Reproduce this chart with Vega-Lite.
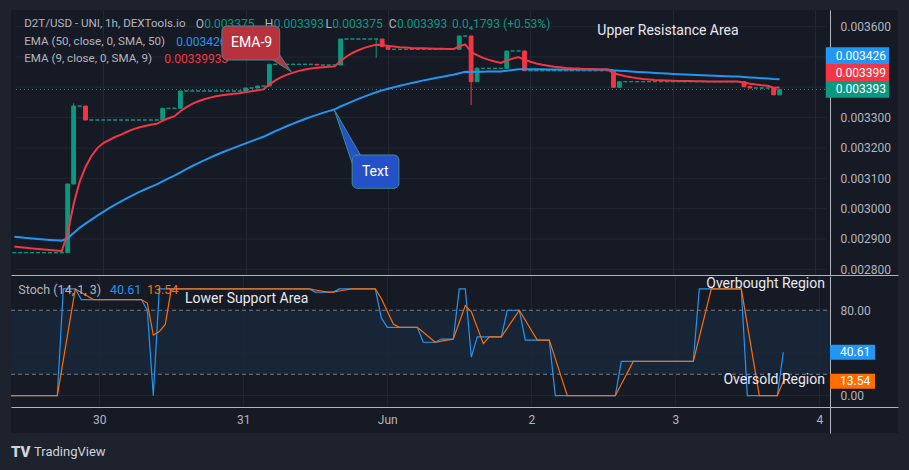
{
"$schema":"https://vega.github.io/schema/vega-lite/v6.json",
"background":"#1e222d",
"padding":{"left":10,"top":10,"right":14,"bottom":14},
"config":{"view":{"stroke":null,"fill":"#161a25"},"font":"Roboto","text":{"font":"Roboto"}},
"datasets":{"bars":[
{"t":"2023-05-29T09:00Z","open":0.0028548,"high":0.0028548,"low":0.0028548,"close":0.0028548,"ema9":0.0028749,"ema50":0.0029075,"k":0,"d":0},
{"t":"2023-05-29T10:00Z","open":0.0028548,"high":0.0028548,"low":0.0028548,"close":0.0028548,"ema9":0.0028729,"ema50":0.0029055,"k":0,"d":0},
{"t":"2023-05-29T11:00Z","open":0.0028548,"high":0.0028548,"low":0.0028548,"close":0.0028548,"ema9":0.0028709,"ema50":0.0029036,"k":0,"d":0},
{"t":"2023-05-29T12:00Z","open":0.0028548,"high":0.0028548,"low":0.0028548,"close":0.0028548,"ema9":0.0028689,"ema50":0.0029016,"k":0,"d":0},
{"t":"2023-05-29T13:00Z","open":0.0028548,"high":0.0028548,"low":0.0028548,"close":0.0028548,"ema9":0.0028670,"ema50":0.0028999,"k":0,"d":0},
{"t":"2023-05-29T14:00Z","open":0.0028548,"high":0.0028548,"low":0.0028548,"close":0.0028548,"ema9":0.0028653,"ema50":0.0028983,"k":0,"d":0},
{"t":"2023-05-29T15:00Z","open":0.0028548,"high":0.0028548,"low":0.0028548,"close":0.0028548,"ema9":0.0028637,"ema50":0.0028970,"k":0,"d":0},
{"t":"2023-05-29T16:00Z","open":0.0028548,"high":0.0028548,"low":0.0028548,"close":0.0028548,"ema9":0.0028620,"ema50":0.0028956,"k":0,"d":0},
{"t":"2023-05-29T17:00Z","open":0.0028548,"high":0.0028548,"low":0.0028548,"close":0.0028548,"ema9":0.0028604,"ema50":0.0028946,"k":0,"d":0},
{"t":"2023-05-29T18:00Z","open":0.0028548,"high":0.0030812,"low":0.0028548,"close":0.0030812,"ema9":0.0029197,"ema50":0.0029029,"k":100,"d":33.3},
{"t":"2023-05-29T19:00Z","open":0.0030812,"high":0.0033472,"low":0.0030812,"close":0.0033383,"ema9":0.0030153,"ema50":0.0029200,"k":100,"d":66.7},
{"t":"2023-05-29T20:00Z","open":0.0033383,"high":0.0033383,"low":0.0033383,"close":0.0033383,"ema9":0.0030878,"ema50":0.0029365,"k":100,"d":100},
{"t":"2023-05-29T21:00Z","open":0.0033383,"high":0.0033383,"low":0.0032922,"close":0.0032922,"ema9":0.0031372,"ema50":0.0029504,"k":90,"d":96.7},
{"t":"2023-05-29T22:00Z","open":0.0032922,"high":0.0032922,"low":0.0032922,"close":0.0032922,"ema9":0.0031735,"ema50":0.0029639,"k":90,"d":93.3},
{"t":"2023-05-29T23:00Z","open":0.0032922,"high":0.0032922,"low":0.0032922,"close":0.0032922,"ema9":0.0031996,"ema50":0.0029771,"k":90,"d":90},
{"t":"2023-05-30T00:00Z","open":0.0032922,"high":0.0032922,"low":0.0032922,"close":0.0032922,"ema9":0.0032163,"ema50":0.0029896,"k":90,"d":90},
{"t":"2023-05-30T01:00Z","open":0.0032922,"high":0.0032922,"low":0.0032922,"close":0.0032922,"ema9":0.0032262,"ema50":0.0030018,"k":90,"d":90},
{"t":"2023-05-30T02:00Z","open":0.0032922,"high":0.0032922,"low":0.0032922,"close":0.0032922,"ema9":0.0032361,"ema50":0.0030133,"k":90,"d":90},
{"t":"2023-05-30T03:00Z","open":0.0032922,"high":0.0032922,"low":0.0032922,"close":0.0032922,"ema9":0.0032437,"ema50":0.0030242,"k":90,"d":90},
{"t":"2023-05-30T04:00Z","open":0.0032922,"high":0.0032922,"low":0.0032922,"close":0.0032922,"ema9":0.0032533,"ema50":0.0030347,"k":90,"d":90},
{"t":"2023-05-30T05:00Z","open":0.0032922,"high":0.0032922,"low":0.0032922,"close":0.0032922,"ema9":0.0032612,"ema50":0.0030446,"k":90,"d":90},
{"t":"2023-05-30T06:00Z","open":0.0032922,"high":0.0032922,"low":0.0032922,"close":0.0032922,"ema9":0.0032674,"ema50":0.0030542,"k":90,"d":90},
{"t":"2023-05-30T07:00Z","open":0.0032922,"high":0.0032922,"low":0.0032922,"close":0.0032922,"ema9":0.0032724,"ema50":0.0030631,"k":90,"d":90},
{"t":"2023-05-30T08:00Z","open":0.0032922,"high":0.0032922,"low":0.0032922,"close":0.0032922,"ema9":0.0032763,"ema50":0.0030716,"k":80,"d":86.7},
{"t":"2023-05-30T09:00Z","open":0.0032922,"high":0.0032922,"low":0.0032922,"close":0.0032922,"ema9":0.0032796,"ema50":0.0030802,"k":0,"d":56.7},
{"t":"2023-05-30T10:00Z","open":0.0032922,"high":0.0033307,"low":0.0032922,"close":0.0033307,"ema9":0.0032898,"ema50":0.0030901,"k":100,"d":60},
{"t":"2023-05-30T11:00Z","open":0.0033307,"high":0.0033307,"low":0.0033307,"close":0.0033307,"ema9":0.0032981,"ema50":0.0030996,"k":100,"d":66.7},
{"t":"2023-05-30T12:00Z","open":0.0033307,"high":0.0033307,"low":0.0033307,"close":0.0033307,"ema9":0.0033047,"ema50":0.0031089,"k":100,"d":100},
{"t":"2023-05-30T13:00Z","open":0.0033307,"high":0.0033877,"low":0.0033307,"close":0.0033877,"ema9":0.0033211,"ema50":0.0031198,"k":100,"d":100},
{"t":"2023-05-30T14:00Z","open":0.0033877,"high":0.0033877,"low":0.0033877,"close":0.0033877,"ema9":0.0033347,"ema50":0.0031303,"k":100,"d":100},
{"t":"2023-05-30T15:00Z","open":0.0033877,"high":0.0033877,"low":0.0033877,"close":0.0033877,"ema9":0.0033452,"ema50":0.0031405,"k":100,"d":100},
{"t":"2023-05-30T16:00Z","open":0.0033877,"high":0.0033877,"low":0.0033877,"close":0.0033877,"ema9":0.0033538,"ema50":0.0031501,"k":100,"d":100},
{"t":"2023-05-30T17:00Z","open":0.0033877,"high":0.0033877,"low":0.0033877,"close":0.0033877,"ema9":0.0033604,"ema50":0.0031593,"k":100,"d":100},
{"t":"2023-05-30T18:00Z","open":0.0033877,"high":0.0033877,"low":0.0033877,"close":0.0033877,"ema9":0.0033660,"ema50":0.0031682,"k":100,"d":100},
{"t":"2023-05-30T19:00Z","open":0.0033877,"high":0.0033877,"low":0.0033877,"close":0.0033877,"ema9":0.0033703,"ema50":0.0031768,"k":100,"d":100},
{"t":"2023-05-30T20:00Z","open":0.0033877,"high":0.0033877,"low":0.0033877,"close":0.0033877,"ema9":0.0033739,"ema50":0.0031850,"k":100,"d":100},
{"t":"2023-05-30T21:00Z","open":0.0033877,"high":0.0033877,"low":0.0033877,"close":0.0033877,"ema9":0.0033763,"ema50":0.0031929,"k":100,"d":100},
{"t":"2023-05-30T22:00Z","open":0.0033877,"high":0.0033877,"low":0.0033877,"close":0.0033877,"ema9":0.0033788,"ema50":0.0032005,"k":100,"d":100},
{"t":"2023-05-30T23:00Z","open":0.0033877,"high":0.0033877,"low":0.0033877,"close":0.0033877,"ema9":0.0033805,"ema50":0.0032078,"k":100,"d":100},
{"t":"2023-05-31T00:00Z","open":0.0033877,"high":0.0033976,"low":0.0033877,"close":0.0033976,"ema9":0.0033841,"ema50":0.0032153,"k":100,"d":100},
{"t":"2023-05-31T01:00Z","open":0.0033976,"high":0.0033976,"low":0.0033976,"close":0.0033976,"ema9":0.0033867,"ema50":0.0032226,"k":100,"d":100},
{"t":"2023-05-31T02:00Z","open":0.0033976,"high":0.0034042,"low":0.0033976,"close":0.0034042,"ema9":0.0033900,"ema50":0.0032299,"k":100,"d":100},
{"t":"2023-05-31T03:00Z","open":0.0034042,"high":0.0034042,"low":0.0034042,"close":0.0034042,"ema9":0.0033931,"ema50":0.0032368,"k":100,"d":100},
{"t":"2023-05-31T04:00Z","open":0.0034042,"high":0.0034757,"low":0.0034042,"close":0.0034757,"ema9":0.0034095,"ema50":0.0032461,"k":100,"d":100},
{"t":"2023-05-31T05:00Z","open":0.0034757,"high":0.0034757,"low":0.0034757,"close":0.0034757,"ema9":0.0034227,"ema50":0.0032553,"k":100,"d":100},
{"t":"2023-05-31T06:00Z","open":0.0034757,"high":0.0034757,"low":0.0034757,"close":0.0034757,"ema9":0.0034332,"ema50":0.0032639,"k":100,"d":100},
{"t":"2023-05-31T07:00Z","open":0.0034757,"high":0.0034757,"low":0.0034757,"close":0.0034757,"ema9":0.0034418,"ema50":0.0032724,"k":100,"d":100},
{"t":"2023-05-31T08:00Z","open":0.0034757,"high":0.0034757,"low":0.0034757,"close":0.0034757,"ema9":0.0034484,"ema50":0.0032803,"k":100,"d":100},
{"t":"2023-05-31T09:00Z","open":0.0034757,"high":0.0034757,"low":0.0034757,"close":0.0034757,"ema9":0.0034541,"ema50":0.0032879,"k":100,"d":100},
{"t":"2023-05-31T10:00Z","open":0.0034757,"high":0.0034757,"low":0.0034757,"close":0.0034757,"ema9":0.0034584,"ema50":0.0032955,"k":100,"d":100},
{"t":"2023-05-31T11:00Z","open":0.0034757,"high":0.0034757,"low":0.0034757,"close":0.0034757,"ema9":0.0034622,"ema50":0.0033024,"k":100,"d":100},
{"t":"2023-05-31T12:00Z","open":0.0034757,"high":0.0034757,"low":0.0034734,"close":0.0034734,"ema9":0.0034646,"ema50":0.0033090,"k":97,"d":99},
{"t":"2023-05-31T13:00Z","open":0.0034734,"high":0.0034734,"low":0.0034734,"close":0.0034734,"ema9":0.0034660,"ema50":0.0033156,"k":97,"d":98},
{"t":"2023-05-31T14:00Z","open":0.0034734,"high":0.0034734,"low":0.0034734,"close":0.0034734,"ema9":0.0034676,"ema50":0.0033215,"k":97,"d":97},
{"t":"2023-05-31T15:00Z","open":0.0034734,"high":0.0034734,"low":0.0034734,"close":0.0034734,"ema9":0.0034689,"ema50":0.0033274,"k":97,"d":97},
{"t":"2023-05-31T16:00Z","open":0.0034734,"high":0.0035591,"low":0.0034734,"close":0.0035591,"ema9":0.0034869,"ema50":0.0033366,"k":100,"d":98},
{"t":"2023-05-31T17:00Z","open":0.0035591,"high":0.0035591,"low":0.0035591,"close":0.0035591,"ema9":0.0035015,"ema50":0.0033452,"k":100,"d":99},
{"t":"2023-05-31T18:00Z","open":0.0035591,"high":0.0035591,"low":0.0035591,"close":0.0035591,"ema9":0.0035130,"ema50":0.0033534,"k":100,"d":100},
{"t":"2023-05-31T19:00Z","open":0.0035591,"high":0.0035591,"low":0.0035591,"close":0.0035591,"ema9":0.0035222,"ema50":0.0033617,"k":100,"d":100},
{"t":"2023-05-31T20:00Z","open":0.0035591,"high":0.0035591,"low":0.0035591,"close":0.0035591,"ema9":0.0035298,"ema50":0.0033693,"k":100,"d":100},
{"t":"2023-05-31T21:00Z","open":0.0035591,"high":0.0035591,"low":0.0035591,"close":0.0035591,"ema9":0.0035357,"ema50":0.0033765,"k":100,"d":100},
{"t":"2023-05-31T22:00Z","open":0.0035591,"high":0.0035591,"low":0.0034975,"close":0.0035591,"ema9":0.0035403,"ema50":0.0033838,"k":100,"d":100},
{"t":"2023-05-31T23:00Z","open":0.0035591,"high":0.0035591,"low":0.0035337,"close":0.0035337,"ema9":0.0035390,"ema50":0.0033897,"k":73,"d":91},
{"t":"2023-06-01T00:00Z","open":0.0035337,"high":0.0035337,"low":0.0035252,"close":0.0035252,"ema9":0.0035364,"ema50":0.0033950,"k":64,"d":79},
{"t":"2023-06-01T01:00Z","open":0.0035252,"high":0.0035252,"low":0.0035252,"close":0.0035252,"ema9":0.0035341,"ema50":0.0033999,"k":64,"d":67},
{"t":"2023-06-01T02:00Z","open":0.0035252,"high":0.0035252,"low":0.0035252,"close":0.0035252,"ema9":0.0035320,"ema50":0.0034049,"k":64,"d":64},
{"t":"2023-06-01T03:00Z","open":0.0035252,"high":0.0035252,"low":0.0035252,"close":0.0035252,"ema9":0.0035308,"ema50":0.0034095,"k":64,"d":64},
{"t":"2023-06-01T04:00Z","open":0.0035252,"high":0.0035252,"low":0.0035252,"close":0.0035252,"ema9":0.0035296,"ema50":0.0034141,"k":64,"d":64},
{"t":"2023-06-01T05:00Z","open":0.0035252,"high":0.0035252,"low":0.0035252,"close":0.0035252,"ema9":0.0035290,"ema50":0.0034184,"k":64,"d":64},
{"t":"2023-06-01T06:00Z","open":0.0035252,"high":0.0035252,"low":0.0035252,"close":0.0035252,"ema9":0.0035283,"ema50":0.0034227,"k":50,"d":59.3},
{"t":"2023-06-01T07:00Z","open":0.0035252,"high":0.0035252,"low":0.0035252,"close":0.0035252,"ema9":0.0035277,"ema50":0.0034266,"k":50,"d":54.7},
{"t":"2023-06-01T08:00Z","open":0.0035252,"high":0.0035252,"low":0.0035252,"close":0.0035252,"ema9":0.0035270,"ema50":0.0034306,"k":50,"d":50},
{"t":"2023-06-01T09:00Z","open":0.0035252,"high":0.0035252,"low":0.0035252,"close":0.0035252,"ema9":0.0035267,"ema50":0.0034342,"k":53,"d":51},
{"t":"2023-06-01T10:00Z","open":0.0035252,"high":0.0035252,"low":0.0035252,"close":0.0035252,"ema9":0.0035263,"ema50":0.0034379,"k":53,"d":52},
{"t":"2023-06-01T11:00Z","open":0.0035252,"high":0.0035252,"low":0.0035252,"close":0.0035252,"ema9":0.0035260,"ema50":0.0034413,"k":53,"d":53},
{"t":"2023-06-01T12:00Z","open":0.0035252,"high":0.0035690,"low":0.0035252,"close":0.0035690,"ema9":0.0035344,"ema50":0.0034464,"k":100,"d":68.7},
{"t":"2023-06-01T13:00Z","open":0.0035690,"high":0.0035690,"low":0.0035690,"close":0.0035690,"ema9":0.0035413,"ema50":0.0034514,"k":100,"d":84.3},
{"t":"2023-06-01T14:00Z","open":0.0035690,"high":0.0035690,"low":0.0033416,"close":0.0034184,"ema9":0.0035166,"ema50":0.0034501,"k":36,"d":78.7},
{"t":"2023-06-01T15:00Z","open":0.0034184,"high":0.0034665,"low":0.0034184,"close":0.0034625,"ema9":0.0035057,"ema50":0.0034508,"k":55,"d":63.7},
{"t":"2023-06-01T16:00Z","open":0.0034625,"high":0.0034625,"low":0.0034625,"close":0.0034625,"ema9":0.0034971,"ema50":0.0034511,"k":55,"d":48.7},
{"t":"2023-06-01T17:00Z","open":0.0034625,"high":0.0034625,"low":0.0034625,"close":0.0034625,"ema9":0.0034902,"ema50":0.0034518,"k":55,"d":55},
{"t":"2023-06-01T18:00Z","open":0.0034625,"high":0.0034625,"low":0.0034625,"close":0.0034625,"ema9":0.0034850,"ema50":0.0034521,"k":55,"d":55},
{"t":"2023-06-01T19:00Z","open":0.0034625,"high":0.0034625,"low":0.0034625,"close":0.0034625,"ema9":0.0034804,"ema50":0.0034524,"k":55,"d":55},
{"t":"2023-06-01T20:00Z","open":0.0034625,"high":0.0035196,"low":0.0034625,"close":0.0035196,"ema9":0.0034883,"ema50":0.0034546,"k":80,"d":63.3},
{"t":"2023-06-01T21:00Z","open":0.0035196,"high":0.0035196,"low":0.0035196,"close":0.0035196,"ema9":0.0034945,"ema50":0.0034573,"k":80,"d":71.7},
{"t":"2023-06-01T22:00Z","open":0.0035196,"high":0.0035196,"low":0.0035196,"close":0.0035196,"ema9":0.0034995,"ema50":0.0034596,"k":80,"d":80},
{"t":"2023-06-01T23:00Z","open":0.0035196,"high":0.0035196,"low":0.0034546,"close":0.0034546,"ema9":0.0034906,"ema50":0.0034593,"k":52,"d":70.7},
{"t":"2023-06-02T00:00Z","open":0.0034546,"high":0.0034546,"low":0.0034546,"close":0.0034546,"ema9":0.0034840,"ema50":0.0034593,"k":52,"d":61.3},
{"t":"2023-06-02T01:00Z","open":0.0034546,"high":0.0034546,"low":0.0034546,"close":0.0034546,"ema9":0.0034784,"ema50":0.0034593,"k":52,"d":52},
{"t":"2023-06-02T02:00Z","open":0.0034546,"high":0.0034546,"low":0.0034546,"close":0.0034546,"ema9":0.0034741,"ema50":0.0034593,"k":52,"d":52},
{"t":"2023-06-02T03:00Z","open":0.0034546,"high":0.0034546,"low":0.0034546,"close":0.0034546,"ema9":0.0034708,"ema50":0.0034589,"k":52,"d":52},
{"t":"2023-06-02T04:00Z","open":0.0034546,"high":0.0034546,"low":0.0034546,"close":0.0034546,"ema9":0.0034678,"ema50":0.0034589,"k":0,"d":34.7},
{"t":"2023-06-02T05:00Z","open":0.0034546,"high":0.0034546,"low":0.0034546,"close":0.0034546,"ema9":0.0034659,"ema50":0.0034589,"k":0,"d":17.3},
{"t":"2023-06-02T06:00Z","open":0.0034546,"high":0.0034546,"low":0.0034546,"close":0.0034546,"ema9":0.0034639,"ema50":0.0034589,"k":0,"d":0},
{"t":"2023-06-02T07:00Z","open":0.0034546,"high":0.0034546,"low":0.0034546,"close":0.0034546,"ema9":0.0034625,"ema50":0.0034586,"k":0,"d":0},
{"t":"2023-06-02T08:00Z","open":0.0034546,"high":0.0034546,"low":0.0034546,"close":0.0034546,"ema9":0.0034616,"ema50":0.0034586,"k":0,"d":0},
{"t":"2023-06-02T09:00Z","open":0.0034546,"high":0.0034546,"low":0.0034546,"close":0.0034546,"ema9":0.0034606,"ema50":0.0034586,"k":0,"d":0},
{"t":"2023-06-02T10:00Z","open":0.0034546,"high":0.0034546,"low":0.0034546,"close":0.0034546,"ema9":0.0034599,"ema50":0.0034586,"k":0,"d":0},
{"t":"2023-06-02T11:00Z","open":0.0034546,"high":0.0034546,"low":0.0034546,"close":0.0034546,"ema9":0.0034593,"ema50":0.0034586,"k":0,"d":0},
{"t":"2023-06-02T12:00Z","open":0.0034546,"high":0.0034546,"low":0.0034546,"close":0.0034546,"ema9":0.0034589,"ema50":0.0034586,"k":0,"d":0},
{"t":"2023-06-02T13:00Z","open":0.0034546,"high":0.0034546,"low":0.0034546,"close":0.0034546,"ema9":0.0034586,"ema50":0.0034583,"k":0,"d":0},
{"t":"2023-06-02T14:00Z","open":0.0034546,"high":0.0034546,"low":0.0033999,"close":0.0033999,"ema9":0.0034467,"ema50":0.0034560,"k":0,"d":0},
{"t":"2023-06-02T15:00Z","open":0.0033999,"high":0.0034184,"low":0.0033999,"close":0.0034184,"ema9":0.0034411,"ema50":0.0034546,"k":32,"d":10.7},
{"t":"2023-06-02T16:00Z","open":0.0034184,"high":0.0034184,"low":0.0034184,"close":0.0034184,"ema9":0.0034365,"ema50":0.0034533,"k":32,"d":21.3},
{"t":"2023-06-02T17:00Z","open":0.0034184,"high":0.0034184,"low":0.0034184,"close":0.0034184,"ema9":0.0034329,"ema50":0.0034520,"k":32,"d":32},
{"t":"2023-06-02T18:00Z","open":0.0034184,"high":0.0034184,"low":0.0034184,"close":0.0034184,"ema9":0.0034299,"ema50":0.0034507,"k":32,"d":32},
{"t":"2023-06-02T19:00Z","open":0.0034184,"high":0.0034184,"low":0.0034184,"close":0.0034184,"ema9":0.0034276,"ema50":0.0034494,"k":32,"d":32},
{"t":"2023-06-02T20:00Z","open":0.0034184,"high":0.0034184,"low":0.0034184,"close":0.0034184,"ema9":0.0034260,"ema50":0.0034484,"k":32,"d":32},
{"t":"2023-06-02T21:00Z","open":0.0034184,"high":0.0034184,"low":0.0034184,"close":0.0034184,"ema9":0.0034243,"ema50":0.0034474,"k":32,"d":32},
{"t":"2023-06-02T22:00Z","open":0.0034184,"high":0.0034184,"low":0.0034184,"close":0.0034184,"ema9":0.0034233,"ema50":0.0034461,"k":32,"d":32},
{"t":"2023-06-02T23:00Z","open":0.0034184,"high":0.0034184,"low":0.0034184,"close":0.0034184,"ema9":0.0034223,"ema50":0.0034451,"k":32,"d":32},
{"t":"2023-06-03T00:00Z","open":0.0034184,"high":0.0034184,"low":0.0034184,"close":0.0034184,"ema9":0.0034217,"ema50":0.0034441,"k":32,"d":32},
{"t":"2023-06-03T01:00Z","open":0.0034184,"high":0.0034184,"low":0.0034184,"close":0.0034184,"ema9":0.0034210,"ema50":0.0034431,"k":32,"d":32},
{"t":"2023-06-03T02:00Z","open":0.0034184,"high":0.0034184,"low":0.0034184,"close":0.0034184,"ema9":0.0034207,"ema50":0.0034421,"k":32,"d":32},
{"t":"2023-06-03T03:00Z","open":0.0034184,"high":0.0034184,"low":0.0034184,"close":0.0034184,"ema9":0.0034204,"ema50":0.0034411,"k":32,"d":32},
{"t":"2023-06-03T04:00Z","open":0.0034184,"high":0.0034184,"low":0.0034184,"close":0.0034184,"ema9":0.0034200,"ema50":0.0034405,"k":100,"d":54.7},
{"t":"2023-06-03T05:00Z","open":0.0034184,"high":0.0034184,"low":0.0034184,"close":0.0034184,"ema9":0.0034197,"ema50":0.0034395,"k":100,"d":77.3},
{"t":"2023-06-03T06:00Z","open":0.0034184,"high":0.0034184,"low":0.0034184,"close":0.0034184,"ema9":0.0034194,"ema50":0.0034388,"k":100,"d":100},
{"t":"2023-06-03T07:00Z","open":0.0034184,"high":0.0034184,"low":0.0034184,"close":0.0034184,"ema9":0.0034191,"ema50":0.0034382,"k":100,"d":100},
{"t":"2023-06-03T08:00Z","open":0.0034184,"high":0.0034184,"low":0.0034184,"close":0.0034184,"ema9":0.0034191,"ema50":0.0034372,"k":100,"d":100},
{"t":"2023-06-03T09:00Z","open":0.0034184,"high":0.0034184,"low":0.0034184,"close":0.0034184,"ema9":0.0034187,"ema50":0.0034365,"k":100,"d":100},
{"t":"2023-06-03T10:00Z","open":0.0034184,"high":0.0034184,"low":0.0034184,"close":0.0034184,"ema9":0.0034187,"ema50":0.0034359,"k":100,"d":100},
{"t":"2023-06-03T11:00Z","open":0.0034184,"high":0.0034184,"low":0.0034184,"close":0.0034184,"ema9":0.0034187,"ema50":0.0034352,"k":100,"d":100},
{"t":"2023-06-03T12:00Z","open":0.0034184,"high":0.0034184,"low":0.0034019,"close":0.0034019,"ema9":0.0034154,"ema50":0.0034339,"k":0,"d":66.7},
{"t":"2023-06-03T13:00Z","open":0.0034019,"high":0.0034042,"low":0.0033976,"close":0.0033976,"ema9":0.0034118,"ema50":0.0034326,"k":0,"d":33.3},
{"t":"2023-06-03T14:00Z","open":0.0033976,"high":0.0033976,"low":0.0033976,"close":0.0033976,"ema9":0.0034088,"ema50":0.0034312,"k":0,"d":0},
{"t":"2023-06-03T15:00Z","open":0.0033976,"high":0.0033976,"low":0.0033976,"close":0.0033976,"ema9":0.0034065,"ema50":0.0034299,"k":0,"d":0},
{"t":"2023-06-03T16:00Z","open":0.0033976,"high":0.0033976,"low":0.0033976,"close":0.0033976,"ema9":0.0034049,"ema50":0.0034286,"k":0,"d":0},
{"t":"2023-06-03T17:00Z","open":0.0033976,"high":0.0033976,"low":0.003375,"close":0.003375,"ema9":0.0033983,"ema50":0.0034270,"k":0,"d":0},
{"t":"2023-06-03T18:00Z","open":0.003375,"high":0.003393,"low":0.003375,"close":0.003393,"ema9":0.0033993,"ema50":0.0034261,"k":40.61,"d":13.54}
]},
"spacing":0,
"vconcat":[
{"width":887,"height":265,"data":{"name":"bars"},"layer":[
 {"data":{"values":[{"p":0.0028},{"p":0.0029},{"p":0.003},{"p":0.0031},{"p":0.0032},{"p":0.0033},{"p":0.0034},{"p":0.0035},{"p":0.0036}]},
  "mark":{"type":"rule","color":"#242733","strokeWidth":1},
  "encoding":{
   "x":{"datum":{"year":2023,"month":5,"date":29,"hours":9,"minutes":17,"utc":true},"type":"temporal",
        "scale":{"type":"utc","domain":[{"year":2023,"month":5,"date":29,"hours":9,"minutes":17,"utc":true},{"year":2023,"month":6,"date":4,"hours":13,"minutes":7,"utc":true}]},
        "axis":{"orient":"bottom","values":[{"year":2023,"month":5,"date":30,"utc":true},{"year":2023,"month":5,"date":31,"utc":true},{"year":2023,"month":6,"date":1,"utc":true},{"year":2023,"month":6,"date":2,"utc":true},{"year":2023,"month":6,"date":3,"utc":true},{"year":2023,"month":6,"date":4,"utc":true}],"tickCount":30,"grid":true,"gridColor":"#242733","labels":false,"ticks":false,"domain":true,"domainColor":"#b2b5be","title":null}},
   "x2":{"datum":{"year":2023,"month":6,"date":4,"hours":1,"minutes":47,"utc":true}},
   "y":{"field":"p","type":"quantitative","scale":{"domain":[0.00278128,0.00365471],"nice":false,"zero":false},
        "axis":{"orient":"right","offset":-68,"values":[0.0028,0.0029,0.003,0.0031,0.0032,0.0033,0.0036],"tickCount":30,"format":".6f","grid":false,"ticks":false,"domain":true,"domainColor":"#b2b5be","labelPadding":10,"labelColor":"#b2b5be","labelFontSize":12,"labelFont":"Roboto","labelOverlap":false,"labelBound":false,"title":null}}}},
 {"data":{"values":[{}]},
  "mark":{"type":"rule","color":"#089981","strokeDash":[1,3],"strokeWidth":1},
  "encoding":{"x":{"datum":{"year":2023,"month":5,"date":29,"hours":9,"minutes":17,"utc":true},"type":"temporal"},"x2":{"datum":{"year":2023,"month":6,"date":4,"hours":1,"minutes":47,"utc":true}},"y":{"datum":0.003393,"type":"quantitative"}}},
 {"mark":{"type":"rule","strokeWidth":1,"clip":true},
  "encoding":{"x":{"field":"t","type":"temporal"},"y":{"field":"low","type":"quantitative"},"y2":{"field":"high"},
   "color":{"condition":{"test":"datum.close >= datum.open","value":"#089981"},"value":"#f23645"}}},
 {"mark":{"type":"bar","width":3.8,"strokeWidth":1,"clip":true},
  "encoding":{"x":{"field":"t","type":"temporal"},"y":{"field":"open","type":"quantitative"},"y2":{"field":"close"},
   "fill":{"condition":{"test":"datum.close >= datum.open","value":"#089981"},"value":"#f23645"},
   "stroke":{"condition":{"test":"datum.close >= datum.open","value":"#089981"},"value":"#f23645"}}},
 {"mark":{"type":"line","color":"#2196f3","strokeWidth":2,"clip":true},
  "encoding":{"x":{"field":"t","type":"temporal"},"y":{"field":"ema50","type":"quantitative"}}},
 {"mark":{"type":"line","color":"#f23645","strokeWidth":2,"clip":true},
  "encoding":{"x":{"field":"t","type":"temporal"},"y":{"field":"ema9","type":"quantitative"}}},
 {"data":{"values":[{}]},"mark":{"type":"text","text":"D2T/USD  - UNI, 1h, DEXTools.io","align":"left","baseline":"middle","fontSize":11.6,"color":"#b2b5be"},
  "encoding":{"x":{"datum":{"year":2023,"month":5,"date":29,"hours":10,"minutes":40,"utc":true},"type":"temporal"},"y":{"datum":0.0036086,"type":"quantitative"}}},
 {"data":{"values":[{}]},"mark":{"type":"text","text":"O","align":"left","baseline":"middle","fontSize":12,"color":"#b2b5be"},
  "encoding":{"x":{"datum":{"year":2023,"month":5,"date":30,"hours":15,"minutes":34,"utc":true},"type":"temporal"},"y":{"datum":0.0036086,"type":"quantitative"}}},
 {"data":{"values":[{}]},"mark":{"type":"text","text":"0.003375","align":"left","baseline":"middle","fontSize":12,"color":"#089981"},
  "encoding":{"x":{"datum":{"year":2023,"month":5,"date":30,"hours":17,"minutes":0,"utc":true},"type":"temporal"},"y":{"datum":0.0036086,"type":"quantitative"}}},
 {"data":{"values":[{}]},"mark":{"type":"text","text":"H","align":"left","baseline":"middle","fontSize":12,"color":"#b2b5be"},
  "encoding":{"x":{"datum":{"year":2023,"month":5,"date":31,"hours":3,"minutes":14,"utc":true},"type":"temporal"},"y":{"datum":0.0036086,"type":"quantitative"}}},
 {"data":{"values":[{}]},"mark":{"type":"text","text":"0.003393","align":"left","baseline":"middle","fontSize":12,"color":"#089981"},
  "encoding":{"x":{"datum":{"year":2023,"month":5,"date":31,"hours":4,"minutes":43,"utc":true},"type":"temporal"},"y":{"datum":0.0036086,"type":"quantitative"}}},
 {"data":{"values":[{}]},"mark":{"type":"text","text":"L","align":"left","baseline":"middle","fontSize":12,"color":"#b2b5be"},
  "encoding":{"x":{"datum":{"year":2023,"month":5,"date":31,"hours":13,"minutes":27,"utc":true},"type":"temporal"},"y":{"datum":0.0036086,"type":"quantitative"}}},
 {"data":{"values":[{}]},"mark":{"type":"text","text":"0.003375","align":"left","baseline":"middle","fontSize":12,"color":"#089981"},
  "encoding":{"x":{"datum":{"year":2023,"month":5,"date":31,"hours":14,"minutes":36,"utc":true},"type":"temporal"},"y":{"datum":0.0036086,"type":"quantitative"}}},
 {"data":{"values":[{}]},"mark":{"type":"text","text":"C","align":"left","baseline":"middle","fontSize":12,"color":"#b2b5be"},
  "encoding":{"x":{"datum":{"year":2023,"month":6,"date":1,"hours":0,"minutes":7,"utc":true},"type":"temporal"},"y":{"datum":0.0036086,"type":"quantitative"}}},
 {"data":{"values":[{}]},"mark":{"type":"text","text":"0.003393","align":"left","baseline":"middle","fontSize":12,"color":"#089981"},
  "encoding":{"x":{"datum":{"year":2023,"month":6,"date":1,"hours":1,"minutes":30,"utc":true},"type":"temporal"},"y":{"datum":0.0036086,"type":"quantitative"}}},
 {"data":{"values":[{}]},"mark":{"type":"text","text":"0.0₄1793 (+0.53%)","align":"left","baseline":"middle","fontSize":12,"color":"#089981"},
  "encoding":{"x":{"datum":{"year":2023,"month":6,"date":1,"hours":10,"minutes":47,"utc":true},"type":"temporal"},"y":{"datum":0.0036086,"type":"quantitative"}}},
 {"data":{"values":[{}]},"mark":{"type":"text","text":"EMA (50, close, 0, SMA, 50)","align":"left","baseline":"middle","fontSize":11.6,"color":"#b2b5be"},
  "encoding":{"x":{"datum":{"year":2023,"month":5,"date":29,"hours":10,"minutes":40,"utc":true},"type":"temporal"},"y":{"datum":0.0035492,"type":"quantitative"}}},
 {"data":{"values":[{}]},"mark":{"type":"text","text":"0.00342613","align":"left","baseline":"middle","fontSize":12,"color":"#2196f3"},
  "encoding":{"x":{"datum":{"year":2023,"month":5,"date":30,"hours":12,"minutes":17,"utc":true},"type":"temporal"},"y":{"datum":0.0035492,"type":"quantitative"}}},
 {"data":{"values":[{}]},"mark":{"type":"text","text":"EMA (9, close, 0, SMA, 9)","align":"left","baseline":"middle","fontSize":11.6,"color":"#b2b5be"},
  "encoding":{"x":{"datum":{"year":2023,"month":5,"date":29,"hours":10,"minutes":40,"utc":true},"type":"temporal"},"y":{"datum":0.0034932,"type":"quantitative"}}},
 {"data":{"values":[{}]},"mark":{"type":"text","text":"0.00339933","align":"left","baseline":"middle","fontSize":12,"color":"#f23645"},
  "encoding":{"x":{"datum":{"year":2023,"month":5,"date":30,"hours":10,"minutes":17,"utc":true},"type":"temporal"},"y":{"datum":0.0034932,"type":"quantitative"}}},
 {"data":{"values":[{}]},"mark":{"type":"text","text":"Upper Resistance Area","align":"left","baseline":"middle","fontSize":14,"color":"#e8e9ee"},
  "encoding":{"x":{"datum":{"year":2023,"month":6,"date":2,"hours":11,"minutes":17,"utc":true},"type":"temporal"},"y":{"datum":0.0035855,"type":"quantitative"}}},
 {"data":{"values":[{"t":"2023-05-31T04:37Z","p1":0.0034899,"p2":0.0034899},{"t":"2023-05-31T05:44Z","p1":0.0035064,"p2":0.0034757},{"t":"2023-05-31T07:40Z","p1":0.0034514,"p2":0.0034514}]},
  "mark":{"type":"area","color":"#b8323e","stroke":"#3a8c93","strokeWidth":1,"opacity":1},
  "encoding":{"x":{"field":"t","type":"temporal"},"y":{"field":"p1","type":"quantitative"},"y2":{"field":"p2"}}},
 {"data":{"values":[{}]},"mark":{"type":"rect","fill":"#b8323e","stroke":"#3a8c93","strokeWidth":1,"cornerRadius":5},
  "encoding":{"x":{"datum":{"year":2023,"month":5,"date":30,"hours":20,"minutes":0,"utc":true},"type":"temporal"},"x2":{"datum":{"year":2023,"month":5,"date":31,"hours":5,"minutes":44,"utc":true}},
   "y":{"datum":0.0036020,"type":"quantitative"},"y2":{"datum":0.0034899}}},
 {"data":{"values":[{}]},"mark":{"type":"text","text":"EMA-9","align":"center","baseline":"middle","fontSize":14,"color":"#ffffff"},
  "encoding":{"x":{"datum":{"year":2023,"month":5,"date":31,"hours":1,"minutes":0,"utc":true},"type":"temporal"},"y":{"datum":0.0035469,"type":"quantitative"}}},
 {"data":{"values":[{"t":"2023-05-31T14:54Z","p1":0.0033274,"p2":0.0033274},{"t":"2023-05-31T17:57Z","p1":0.0032239,"p2":0.0031494},{"t":"2023-05-31T19:20Z","p1":0.0031768,"p2":0.0031768}]},
  "mark":{"type":"area","color":"#2450c8","stroke":"#3a8c93","strokeWidth":1,"opacity":1},
  "encoding":{"x":{"field":"t","type":"temporal"},"y":{"field":"p1","type":"quantitative"},"y2":{"field":"p2"}}},
 {"data":{"values":[{}]},"mark":{"type":"rect","fill":"#2450c8","stroke":"#3a8c93","strokeWidth":1,"cornerRadius":5},
  "encoding":{"x":{"datum":{"year":2023,"month":5,"date":31,"hours":17,"minutes":57,"utc":true},"type":"temporal"},"x2":{"datum":{"year":2023,"month":6,"date":1,"hours":1,"minutes":50,"utc":true}},
   "y":{"datum":0.0031768,"type":"quantitative"},"y2":{"datum":0.0030670}}},
 {"data":{"values":[{}]},"mark":{"type":"text","text":"Text","align":"center","baseline":"middle","fontSize":14,"color":"#ffffff"},
  "encoding":{"x":{"datum":{"year":2023,"month":5,"date":31,"hours":21,"minutes":50,"utc":true},"type":"temporal"},"y":{"datum":0.0031218,"type":"quantitative"}}},
 {"data":{"values":[{}]},"mark":{"type":"rect","fill":"#2196f3"},
  "encoding":{"x":{"datum":{"year":2023,"month":6,"date":4,"hours":1,"minutes":47,"utc":true},"type":"temporal"},"x2":{"datum":{"year":2023,"month":6,"date":4,"hours":12,"minutes":27,"utc":true}},
   "y":{"datum":0.0035318,"type":"quantitative"},"y2":{"datum":0.0034764}}},
 {"data":{"values":[{}]},"mark":{"type":"rect","fill":"#f23645"},
  "encoding":{"x":{"datum":{"year":2023,"month":6,"date":4,"hours":1,"minutes":47,"utc":true},"type":"temporal"},"x2":{"datum":{"year":2023,"month":6,"date":4,"hours":12,"minutes":27,"utc":true}},
   "y":{"datum":0.0034764,"type":"quantitative"},"y2":{"datum":0.0034210}}},
 {"data":{"values":[{}]},"mark":{"type":"rect","fill":"#089981"},
  "encoding":{"x":{"datum":{"year":2023,"month":6,"date":4,"hours":1,"minutes":47,"utc":true},"type":"temporal"},"x2":{"datum":{"year":2023,"month":6,"date":4,"hours":12,"minutes":27,"utc":true}},
   "y":{"datum":0.0034210,"type":"quantitative"},"y2":{"datum":0.0033657}}},
 {"data":{"values":[{}]},"mark":{"type":"text","text":"0.003426","align":"left","baseline":"middle","fontSize":12,"color":"#ffffff"},
  "encoding":{"x":{"datum":{"year":2023,"month":6,"date":4,"hours":3,"minutes":27,"utc":true},"type":"temporal"},"y":{"datum":0.0035041,"type":"quantitative"}}},
 {"data":{"values":[{}]},"mark":{"type":"text","text":"0.003399","align":"left","baseline":"middle","fontSize":12,"color":"#ffffff"},
  "encoding":{"x":{"datum":{"year":2023,"month":6,"date":4,"hours":3,"minutes":27,"utc":true},"type":"temporal"},"y":{"datum":0.0034487,"type":"quantitative"}}},
 {"data":{"values":[{}]},"mark":{"type":"text","text":"0.003393","align":"left","baseline":"middle","fontSize":12,"color":"#ffffff"},
  "encoding":{"x":{"datum":{"year":2023,"month":6,"date":4,"hours":3,"minutes":27,"utc":true},"type":"temporal"},"y":{"datum":0.0033933,"type":"quantitative"}}}
]},
{"width":887,"height":157,"data":{"name":"bars"},"layer":[
 {"data":{"values":[{}]},"mark":{"type":"rect","fill":"#2196f3","opacity":0.09},
  "encoding":{
   "x":{"datum":{"year":2023,"month":5,"date":29,"hours":9,"minutes":17,"utc":true},"type":"temporal",
        "scale":{"type":"utc","domain":[{"year":2023,"month":5,"date":29,"hours":9,"minutes":17,"utc":true},{"year":2023,"month":6,"date":4,"hours":13,"minutes":7,"utc":true}]},
        "axis":{"orient":"bottom","offset":-26,"values":[{"year":2023,"month":5,"date":30,"utc":true},{"year":2023,"month":5,"date":31,"utc":true},{"year":2023,"month":6,"date":1,"utc":true},{"year":2023,"month":6,"date":2,"utc":true},{"year":2023,"month":6,"date":3,"utc":true},{"year":2023,"month":6,"date":4,"utc":true}],"tickCount":30,
                "labelExpr":"utcFormat(datum.value, '%d') == '01' ? utcFormat(datum.value, '%b') : utcFormat(datum.value, '%-d')",
                "grid":false,"ticks":false,"domain":true,"domainColor":"#b2b5be","labelPadding":7,"labelColor":"#b2b5be","labelFontSize":12,"labelFont":"Roboto","labelFlush":false,"labelOverlap":false,"title":null}},
   "x2":{"datum":{"year":2023,"month":6,"date":4,"hours":1,"minutes":47,"utc":true}},
   "y":{"datum":20,"type":"quantitative","scale":{"domain":[-35.05,112.09],"nice":false,"zero":false},
        "axis":{"orient":"right","offset":-68,"values":[0,80],"tickCount":30,"format":".2f","grid":false,"ticks":false,"domain":true,"domainColor":"#b2b5be","labelPadding":10,"labelColor":"#b2b5be","labelFontSize":12,"labelFont":"Roboto","labelOverlap":false,"labelBound":false,"title":null}},
   "y2":{"datum":80}}},
 {"data":{"values":[{"v":0},{"v":40}]},"mark":{"type":"rule","color":"#242733","strokeWidth":1},
  "encoding":{"x":{"datum":{"year":2023,"month":5,"date":29,"hours":9,"minutes":17,"utc":true},"type":"temporal"},"x2":{"datum":{"year":2023,"month":6,"date":4,"hours":1,"minutes":47,"utc":true}},"y":{"field":"v","type":"quantitative"}}},
 {"data":{"values":[{"day":"2023-05-30T00:00Z"},{"day":"2023-05-31T00:00Z"},{"day":"2023-06-01T00:00Z"},{"day":"2023-06-02T00:00Z"},{"day":"2023-06-03T00:00Z"},{"day":"2023-06-04T00:00Z"}]},
  "mark":{"type":"rule","color":"#242733","strokeWidth":1,"clip":true},
  "encoding":{"x":{"field":"day","type":"temporal"},"y":{"datum":-10.7,"type":"quantitative"},"y2":{"datum":112.09}}},
 {"data":{"values":[{"v":20},{"v":80}]},"mark":{"type":"rule","color":"#787b86","strokeWidth":1,"strokeDash":[4,3]},
  "encoding":{"x":{"datum":{"year":2023,"month":5,"date":29,"hours":9,"minutes":17,"utc":true},"type":"temporal"},"x2":{"datum":{"year":2023,"month":6,"date":4,"hours":1,"minutes":47,"utc":true}},"y":{"field":"v","type":"quantitative"}}},
 {"mark":{"type":"line","color":"#2196f3","strokeWidth":1.2,"clip":true},
  "encoding":{"x":{"field":"t","type":"temporal"},"y":{"field":"k","type":"quantitative"}}},
 {"mark":{"type":"line","color":"#ff6d00","strokeWidth":1.2,"clip":true},
  "encoding":{"x":{"field":"t","type":"temporal"},"y":{"field":"d","type":"quantitative"}}},
 {"data":{"values":[{}]},"mark":{"type":"text","text":"Stoch (14, 1, 3)","align":"left","baseline":"middle","fontSize":12.5,"color":"#b2b5be"},
  "encoding":{"x":{"datum":{"year":2023,"month":5,"date":29,"hours":10,"minutes":30,"utc":true},"type":"temporal"},"y":{"datum":99,"type":"quantitative"}}},
 {"data":{"values":[{}]},"mark":{"type":"text","text":"40.61","align":"left","baseline":"middle","fontSize":12.5,"color":"#2196f3"},
  "encoding":{"x":{"datum":{"year":2023,"month":5,"date":30,"hours":1,"minutes":47,"utc":true},"type":"temporal"},"y":{"datum":99,"type":"quantitative"}}},
 {"data":{"values":[{}]},"mark":{"type":"text","text":"13.54","align":"left","baseline":"middle","fontSize":12.5,"color":"#ff6d00"},
  "encoding":{"x":{"datum":{"year":2023,"month":5,"date":30,"hours":7,"minutes":57,"utc":true},"type":"temporal"},"y":{"datum":99,"type":"quantitative"}}},
 {"data":{"values":[{}]},"mark":{"type":"text","text":"Lower Support Area","align":"left","baseline":"middle","fontSize":14,"color":"#e8e9ee"},
  "encoding":{"x":{"datum":{"year":2023,"month":5,"date":30,"hours":14,"minutes":17,"utc":true},"type":"temporal"},"y":{"datum":90.8,"type":"quantitative"}}},
 {"data":{"values":[{}]},"mark":{"type":"text","text":"Overbought Region","align":"right","baseline":"middle","fontSize":14,"color":"#e8e9ee"},
  "encoding":{"x":{"datum":{"year":2023,"month":6,"date":4,"hours":0,"minutes":57,"utc":true},"type":"temporal"},"y":{"datum":104.6,"type":"quantitative"}}},
 {"data":{"values":[{}]},"mark":{"type":"text","text":"Oversold Region","align":"right","baseline":"middle","fontSize":14,"color":"#e8e9ee"},
  "encoding":{"x":{"datum":{"year":2023,"month":6,"date":4,"hours":0,"minutes":57,"utc":true},"type":"temporal"},"y":{"datum":14.9,"type":"quantitative"}}},
 {"data":{"values":[{}]},"mark":{"type":"rect","fill":"#2196f3"},
  "encoding":{"x":{"datum":{"year":2023,"month":6,"date":4,"hours":1,"minutes":47,"utc":true},"type":"temporal"},"x2":{"datum":{"year":2023,"month":6,"date":4,"hours":9,"minutes":17,"utc":true}},
   "y":{"datum":47.64,"type":"quantitative"},"y2":{"datum":33.58}}},
 {"data":{"values":[{}]},"mark":{"type":"rect","fill":"#ff6d00"},
  "encoding":{"x":{"datum":{"year":2023,"month":6,"date":4,"hours":1,"minutes":47,"utc":true},"type":"temporal"},"x2":{"datum":{"year":2023,"month":6,"date":4,"hours":9,"minutes":17,"utc":true}},
   "y":{"datum":20.57,"type":"quantitative"},"y2":{"datum":6.51}}},
 {"data":{"values":[{}]},"mark":{"type":"text","text":"40.61","align":"left","baseline":"middle","fontSize":12,"color":"#ffffff"},
  "encoding":{"x":{"datum":{"year":2023,"month":6,"date":4,"hours":3,"minutes":27,"utc":true},"type":"temporal"},"y":{"datum":40.61,"type":"quantitative"}}},
 {"data":{"values":[{}]},"mark":{"type":"text","text":"13.54","align":"left","baseline":"middle","fontSize":12,"color":"#ffffff"},
  "encoding":{"x":{"datum":{"year":2023,"month":6,"date":4,"hours":3,"minutes":27,"utc":true},"type":"temporal"},"y":{"datum":13.54,"type":"quantitative"}}},
 {"data":{"values":[{}]},"mark":{"type":"text","text":"TV","align":"left","baseline":"middle","fontSize":15,"fontWeight":900,"color":"#d1d4dc"},
  "encoding":{"x":{"datum":{"year":2023,"month":5,"date":29,"hours":9,"minutes":17,"utc":true},"type":"temporal"},"y":{"datum":-52.9,"type":"quantitative"}}},
 {"data":{"values":[{}]},"mark":{"type":"text","text":"TradingView","align":"left","baseline":"middle","fontSize":13,"color":"#d1d4dc"},
  "encoding":{"x":{"datum":{"year":2023,"month":5,"date":29,"hours":13,"minutes":7,"utc":true},"type":"temporal"},"y":{"datum":-52.9,"type":"quantitative"}}}
]}
]
}
